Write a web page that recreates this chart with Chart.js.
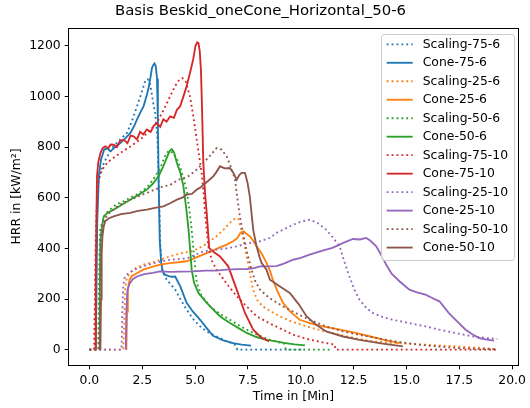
<!DOCTYPE html>
<html>
<head>
<meta charset="utf-8">
<script src="https://cdn.jsdelivr.net/npm/chart.js@4.4.1/dist/chart.umd.min.js"></script>
<style>
  body { margin: 0; background: #fff; }
  canvas { display: block; }
</style>
</head>
<body>
<canvas id="hrrChart" width="530" height="408"></canvas>
<script>
// values (time in min, HRR in kW/m²)
const scaling75_6_x = [0, 0.28, 0.32, 0.36, 0.42, 0.52, 0.7, 0.9, 1.14, 1.4, 1.78, 2.0, 2.25, 2.45, 2.64, 2.75, 2.85, 2.95, 3.05, 3.11, 3.17, 3.22, 3.28, 3.35, 3.45, 3.66, 4.06, 4.3, 4.6, 4.9, 5.24, 5.55, 5.85, 6.2, 6.5, 6.8, 6.95, 7.0, 10.2];
const scaling75_6_y = [0, 0, 300, 550, 660, 700, 740, 770, 803, 825, 856, 900, 960, 1010, 1060, 1068, 1060, 1010, 960, 935, 880, 829, 650, 420, 310, 276, 237, 200, 158, 122, 92, 72, 59, 45, 33, 24, 15, 0, 0];

const cone75_6_x = [0.30, 0.33, 0.37, 0.45, 0.55, 0.7, 0.85, 1.0, 1.15, 1.3, 1.46, 1.65, 1.93, 2.1, 2.25, 2.4, 2.56, 2.7, 2.8, 2.9, 2.96, 3.03, 3.08, 3.14, 3.2, 3.24, 3.28, 3.33, 3.4, 3.48, 3.58, 3.75, 3.9, 4.06, 4.3, 4.6, 4.9, 5.24, 5.55, 5.85, 6.3, 6.8, 7.2, 7.65];
const cone75_6_y = [0, 200, 500, 690, 750, 790, 795, 783, 795, 805, 816, 830, 855, 880, 908, 935, 960, 1000, 1033, 1080, 1112, 1125, 1130, 1120, 1070, 900, 650, 430, 340, 305, 296, 290, 288, 289, 250, 185, 150, 118, 85, 55, 38, 26, 20, 16];

const scaling25_6_x = [0, 1.6, 1.65, 1.7, 1.78, 1.9, 2.1, 2.55, 3.0, 3.35, 3.8, 4.3, 4.9, 5.4, 6.0, 6.4, 6.7, 6.93, 7.05, 7.2, 7.32, 7.44, 7.6, 7.74, 7.95, 8.2, 8.6, 9.0, 9.6, 10.27, 11.0, 11.84, 12.6, 13.4, 14.2, 15.0, 16.0, 17.3, 18.3, 19.3];
const scaling25_6_y = [0, 0, 120, 250, 285, 300, 318, 336, 345, 355, 368, 380, 390, 410, 447, 478, 505, 520, 515, 470, 420, 368, 300, 237, 195, 171, 150, 132, 110, 92, 75, 59, 45, 33, 28, 24, 19, 13, 8, 2];

const cone25_6_x = [1.75, 1.78, 1.82, 1.9, 2.0, 2.2, 2.55, 3.0, 3.35, 3.8, 4.2, 4.6, 5.0, 5.38, 5.8, 6.2, 6.5, 6.8, 7.0, 7.15, 7.3, 7.4, 7.6, 7.75, 7.91, 8.15, 8.38, 8.55, 8.68, 8.9, 9.16, 9.5, 9.95, 10.5, 11.04, 11.8, 12.6, 13.4, 14.0, 14.67];
const cone25_6_y = [0, 150, 240, 275, 290, 300, 316, 328, 336, 342, 345, 349, 362, 375, 390, 405, 415, 428, 440, 462, 467, 460, 447, 430, 408, 380, 343, 310, 276, 230, 185, 150, 118, 103, 92, 80, 66, 50, 38, 26];

const scaling50_6_x = [0, 0.42, 0.46, 0.5, 0.6, 0.75, 1.0, 1.3, 1.6, 1.93, 2.3, 2.72, 3.0, 3.35, 3.55, 3.74, 3.9, 4.1, 4.3, 4.45, 4.6, 4.72, 4.84, 4.95, 5.08, 5.3, 5.7, 6.2, 6.65, 7.2, 7.75, 8.2, 8.54, 8.9, 9.2, 9.3, 11.5];
const scaling50_6_y = [0, 0, 300, 470, 500, 535, 555, 575, 585, 600, 615, 640, 670, 715, 760, 785, 780, 760, 720, 675, 632, 560, 474, 370, 263, 215, 171, 140, 118, 90, 66, 50, 39, 30, 25, 0, 0];

const cone50_6_x = [0.47, 0.49, 0.52, 0.6, 0.68, 0.85, 1.15, 1.5, 1.93, 2.3, 2.72, 3.0, 3.27, 3.5, 3.66, 3.8, 3.9, 4.0, 4.14, 4.3, 4.45, 4.58, 4.69, 4.78, 4.84, 4.95, 5.16, 5.5, 5.86, 6.2, 6.65, 7.0, 7.44, 7.9, 8.38, 8.7, 9.2, 9.7, 10.2];
const cone50_6_y = [0, 200, 430, 490, 526, 540, 553, 570, 592, 610, 632, 655, 684, 725, 757, 785, 792, 780, 737, 700, 645, 560, 474, 380, 316, 265, 224, 190, 158, 130, 105, 88, 66, 50, 39, 35, 27, 21, 17];

const scaling75_10_x = [0, 0.22, 0.26, 0.3, 0.36, 0.44, 0.6, 0.83, 1.1, 1.46, 1.9, 2.4, 2.8, 3.19, 3.5, 3.82, 4.05, 4.25, 4.4, 4.55, 4.76, 4.92, 5.08, 5.2, 5.31, 5.4, 5.47, 5.55, 5.63, 5.8, 6.02, 6.5, 6.97, 7.45, 7.91, 8.5, 9.0, 9.64, 10.4, 11.2, 11.6, 11.65, 19.3];
const scaling75_10_y = [0, 0, 200, 450, 600, 671, 710, 737, 755, 776, 800, 829, 860, 895, 945, 1000, 1040, 1065, 1072, 1060, 1000, 920, 829, 760, 698, 620, 540, 470, 408, 350, 316, 260, 211, 170, 132, 105, 85, 59, 40, 26, 20, 0, 0];

const cone75_10_x = [0.28, 0.3, 0.33, 0.36, 0.42, 0.52, 0.62, 0.75, 0.9, 1.0, 1.15, 1.3, 1.45, 1.62, 1.8, 1.95, 2.09, 2.25, 2.4, 2.55, 2.72, 2.9, 3.05, 3.19, 3.35, 3.5, 3.65, 3.82, 4.0, 4.14, 4.29, 4.45, 4.6, 4.76, 4.92, 5.02, 5.1, 5.16, 5.22, 5.28, 5.33, 5.39, 5.47, 5.55, 5.67, 5.9, 6.18, 6.57, 6.97, 7.36, 7.75, 8.1, 8.5];
const cone75_10_y = [0, 250, 500, 684, 740, 775, 795, 803, 795, 810, 809, 800, 825, 829, 815, 845, 842, 830, 860, 850, 869, 860, 885, 895, 880, 910, 900, 921, 915, 947, 960, 1000, 1040, 1092, 1150, 1200, 1213, 1210, 1180, 1100, 950, 737, 620, 540, 401, 385, 368, 329, 237, 145, 79, 50, 33];

const scaling25_10_x = [0, 1.52, 1.56, 1.6, 1.66, 1.75, 1.9, 2.2, 2.6, 3.0, 3.35, 3.82, 4.6, 5.39, 6.0, 6.5, 6.97, 7.5, 8.07, 8.54, 8.85, 9.2, 9.64, 10.0, 10.42, 10.8, 11.2, 11.5, 11.84, 12.05, 12.3, 12.55, 12.78, 13.1, 13.4, 13.9, 14.35, 15.14, 15.9, 16.56, 17.3, 18.1, 18.8, 19.3];
const scaling25_10_y = [0, 0, 150, 250, 282, 295, 305, 318, 330, 340, 347, 355, 360, 388, 395, 400, 408, 420, 428, 441, 461, 475, 493, 505, 513, 500, 474, 445, 408, 350, 289, 235, 197, 165, 145, 128, 118, 105, 92, 79, 66, 53, 46, 42];

const cone25_10_x = [1.72, 1.75, 1.8, 1.9, 2.05, 2.25, 2.6, 3.0, 3.35, 3.8, 4.3, 4.92, 5.5, 6.0, 6.5, 7.0, 7.44, 7.8, 8.07, 8.5, 8.85, 9.2, 9.64, 10.0, 10.42, 10.8, 11.2, 11.5, 11.84, 12.1, 12.47, 12.8, 13.1, 13.3, 13.57, 13.8, 14.04, 14.3, 14.67, 15.14, 15.5, 15.9, 16.2, 16.56, 17.0, 17.4, 17.8, 18.1, 18.44, 18.8, 19.15];
const cone25_10_y = [0, 150, 235, 260, 278, 289, 298, 303, 309, 307, 308, 309, 312, 312, 316, 318, 318, 322, 329, 329, 330, 340, 355, 362, 375, 385, 395, 402, 415, 425, 437, 435, 441, 430, 408, 375, 336, 300, 270, 237, 226, 217, 205, 191, 145, 112, 79, 62, 46, 40, 36];

const scaling50_10_x = [0, 0.45, 0.5, 0.55, 0.62, 0.75, 0.95, 1.15, 1.5, 1.93, 2.3, 2.72, 3.1, 3.5, 3.82, 4.21, 4.6, 5.0, 5.39, 5.7, 6.02, 6.25, 6.5, 6.7, 6.89, 7.0, 7.12, 7.25, 7.36, 7.5, 7.67, 7.85, 8.07, 8.5, 9.16, 9.8, 10.42, 11.2, 12.0, 12.8, 13.57, 14.3, 15.0, 16.0, 17.0, 18.0, 19.3];
const scaling50_10_y = [0, 0, 250, 440, 490, 520, 540, 555, 575, 592, 605, 619, 632, 645, 650, 671, 680, 705, 737, 765, 796, 790, 763, 720, 671, 600, 526, 470, 421, 370, 316, 270, 237, 205, 171, 143, 118, 92, 72, 58, 46, 35, 26, 16, 9, 4, 1];

const cone50_10_x = [0.52, 0.55, 0.58, 0.62, 0.68, 0.75, 0.9, 1.15, 1.5, 1.93, 2.3, 2.72, 3.1, 3.5, 3.82, 4.14, 4.4, 4.6, 4.85, 5.08, 5.25, 5.39, 5.6, 5.86, 6.0, 6.18, 6.4, 6.65, 6.8, 6.97, 7.1, 7.2, 7.36, 7.48, 7.59, 7.67, 7.75, 7.91, 8.07, 8.15, 8.38, 8.54, 9.0, 9.48, 9.9, 10.27, 10.7, 11.2, 12.0, 12.78, 13.8, 14.83];
const cone50_10_y = [0, 200, 380, 450, 487, 507, 518, 526, 535, 540, 548, 553, 560, 566, 578, 592, 600, 612, 615, 632, 640, 651, 665, 684, 700, 724, 716, 717, 700, 671, 690, 698, 698, 660, 605, 540, 474, 408, 360, 342, 316, 276, 250, 224, 180, 132, 100, 72, 52, 39, 25, 13];

const xTicks = [0, 2.5, 5, 7.5, 10, 12.5, 15, 17.5, 20];
const yTicks = [0, 200, 400, 600, 800, 1000, 1200];

const FONT = "'DejaVu Sans', sans-serif";
const LW = 1.85;
const DOT = [1.85, 3.06];

const toPoints = (xs, ys) => xs.map((x, i) => ({ x: x, y: ys[i] }));

const series = [
    { label: "Scaling-75-6", x: scaling75_6_x, y: scaling75_6_y, color: "#1f77b4", dotted: true },
    { label: "Cone-75-6", x: cone75_6_x, y: cone75_6_y, color: "#1f77b4", dotted: false },
    { label: "Scaling-25-6", x: scaling25_6_x, y: scaling25_6_y, color: "#ff7f0e", dotted: true },
    { label: "Cone-25-6", x: cone25_6_x, y: cone25_6_y, color: "#ff7f0e", dotted: false },
    { label: "Scaling-50-6", x: scaling50_6_x, y: scaling50_6_y, color: "#2ca02c", dotted: true },
    { label: "Cone-50-6", x: cone50_6_x, y: cone50_6_y, color: "#2ca02c", dotted: false },
    { label: "Scaling-75-10", x: scaling75_10_x, y: scaling75_10_y, color: "#d62728", dotted: true },
    { label: "Cone-75-10", x: cone75_10_x, y: cone75_10_y, color: "#d62728", dotted: false },
    { label: "Scaling-25-10", x: scaling25_10_x, y: scaling25_10_y, color: "#9467bd", dotted: true },
    { label: "Cone-25-10", x: cone25_10_x, y: cone25_10_y, color: "#9467bd", dotted: false },
    { label: "Scaling-50-10", x: scaling50_10_x, y: scaling50_10_y, color: "#8c564b", dotted: true },
    { label: "Cone-50-10", x: cone50_10_x, y: cone50_10_y, color: "#8c564b", dotted: false },
];

const datasets = series.map((s, i) => ({
    label: s.label,
    data: toPoints(s.x, s.y),
    borderColor: s.color,
    backgroundColor: s.color,
    borderWidth: LW,
    borderDash: s.dotted ? DOT : [],
    borderCapStyle: "butt",
    pointRadius: 0,
    tension: 0,
    fill: false,
    order: -i, // later series on top, like matplotlib
}));

// box around the plot (all four spines) + legend inside the axes
const framePlugin = {
    id: "frame",
    afterDraw(chart) {
        const { ctx, chartArea: a } = chart;
        ctx.save();
        ctx.strokeStyle = "#000";
        ctx.lineWidth = 1;
        ctx.strokeRect(Math.round(a.left) - 0.5, Math.round(a.top) + 0.5,
            Math.round(a.right - a.left) + 1, Math.round(a.bottom - a.top));

        // legend
        const bx = 381.5, by = 34.5, bw = 133, bh = 226, r = 3;
        ctx.beginPath();
        ctx.roundRect(bx, by, bw, bh, r);
        ctx.fillStyle = "rgba(255,255,255,0.8)";
        ctx.fill();
        ctx.strokeStyle = "#cccccc";
        ctx.stroke();

        ctx.font = "12.4px " + FONT;
        ctx.textBaseline = "middle";
        ctx.textAlign = "left";
        chart.data.datasets.forEach((ds, i) => {
            const cy = 44.3 + i * 18.48;
            ctx.beginPath();
            ctx.setLineDash(ds.borderDash);
            ctx.lineCap = "butt";
            ctx.lineWidth = LW;
            ctx.strokeStyle = ds.borderColor;
            ctx.moveTo(386.7, cy);
            ctx.lineTo(412.7, cy);
            ctx.stroke();
            ctx.setLineDash([]);
            ctx.fillStyle = "#000";
            ctx.fillText(ds.label, 422.7, cy + 0.5);
        });
        ctx.restore();
    },
};

new Chart(document.getElementById("hrrChart"), {
    type: "line",
    data: { datasets: datasets },
    options: {
        responsive: false,
        animation: false,
        devicePixelRatio: 1,
        layout: { padding: { left: 0, right: 9, top: 0, bottom: 0 } },
        plugins: {
            legend: { display: false },
            tooltip: { enabled: false },
            title: {
                display: true,
                text: "Basis Beskid_oneCone_Horizontal_50-6",
                color: "#000",
                font: { family: FONT, size: 14.9, weight: "normal", lineHeight: 1.2 },
                padding: { top: 2, bottom: 8.1 },
            },
        },
        scales: {
            x: {
                type: "linear",
                min: -0.965,
                max: 20.27,
                afterBuildTicks: (axis) => { axis.ticks = xTicks.map(v => ({ value: v })); },
                afterFit: (axis) => { axis.height = 43; },
                grid: { display: true, drawOnChartArea: false, drawTicks: true, tickLength: 4.3, color: "#000", lineWidth: 1 },
                border: { display: false },
                ticks: {
                    color: "#000",
                    font: { family: FONT, size: 12.4 },
                    padding: 4,
                    autoSkip: false,
                    maxRotation: 0,
                    callback: (v) => Number(v).toFixed(1),
                },
                title: {
                    display: true,
                    text: "Time in [Min]",
                    color: "#000",
                    font: { family: FONT, size: 12.4, lineHeight: 1.2 },
                    padding: { top: 0, bottom: 3.6 },
                },
            },
            y: {
                type: "linear",
                min: -60.5,
                max: 1270,
                afterBuildTicks: (axis) => { axis.ticks = yTicks.map(v => ({ value: v })); },
                afterFit: (axis) => { axis.width = 69; },
                grid: { display: true, drawOnChartArea: false, drawTicks: true, tickLength: 4.3, color: "#000", lineWidth: 1 },
                border: { display: false },
                ticks: {
                    color: "#000",
                    font: { family: FONT, size: 12.4 },
                    padding: 4,
                    callback: (v) => String(v),
                },
                title: {
                    display: true,
                    text: "HRR in [kW/m²]",
                    color: "#000",
                    font: { family: FONT, size: 12.4, lineHeight: 1.2 },
                    padding: { top: 9.5, bottom: 0 },
                },
            },
        },
    },
    plugins: [framePlugin],
});
</script>
</body>
</html>
